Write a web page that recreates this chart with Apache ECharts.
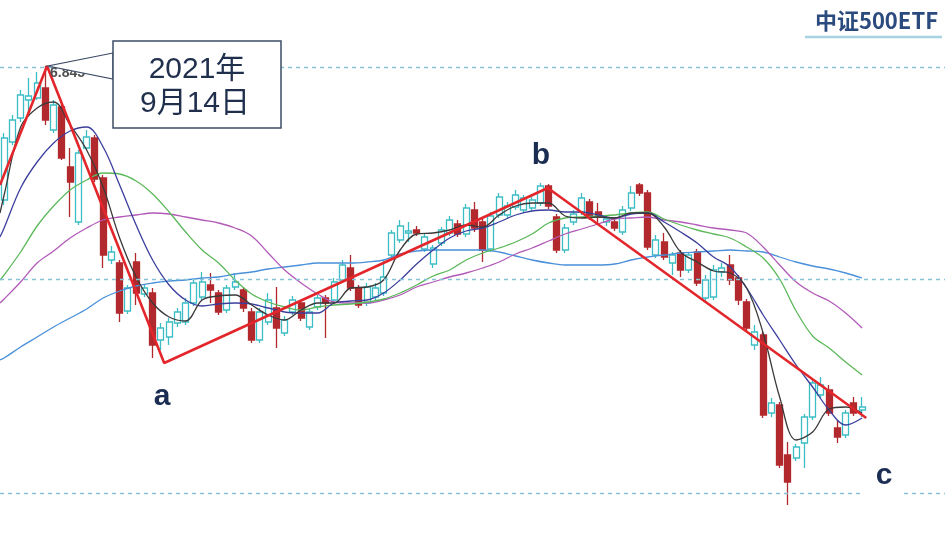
<!DOCTYPE html>
<html><head><meta charset="utf-8">
<script src="https://cdn.jsdelivr.net/npm/echarts@6.0.0/dist/echarts.min.js"></script>
<style>html,body{margin:0;padding:0;background:#fff}#c{width:945px;height:539px}</style>
</head><body><div id="c"></div>
<script>
// trading-day slots (no dates shown on the reference)
const categories = Array.from({length:105}, (_, i) => String(i + 1));
// [open, close, low, high]
const candles = [
[6.175,6.485,6.150,6.510],[6.465,6.575,6.450,6.600],[6.585,6.700,6.565,6.725],[6.675,6.695,6.590,6.785],[6.685,6.760,6.675,6.815],
[6.735,6.575,6.550,6.845],[6.525,6.650,6.510,6.675],[6.640,6.385,6.375,6.655],[6.340,6.265,6.090,6.435],[6.065,6.410,6.050,6.425],
[6.435,6.490,6.425,6.525],[6.485,6.280,6.265,6.500],[6.285,5.900,5.835,6.300],[5.875,5.915,5.855,5.945],[5.860,5.610,5.565,5.875],
[5.620,5.735,5.605,5.750],[5.865,5.710,5.650,5.910],[5.705,5.735,5.690,5.755],[5.710,5.450,5.385,5.735],[5.475,5.535,5.425,5.560],
[5.490,5.565,5.450,5.585],[5.560,5.615,5.540,5.635],[5.565,5.660,5.550,5.685],[5.660,5.760,5.645,5.775],[5.690,5.765,5.675,5.815],
[5.750,5.725,5.660,5.810],[5.710,5.615,5.600,5.725],[5.625,5.735,5.610,5.750],[5.740,5.765,5.725,5.810],[5.725,5.635,5.615,5.740],
[5.615,5.475,5.460,5.635],[5.475,5.615,5.460,5.635],[5.565,5.675,5.550,5.710],[5.635,5.535,5.435,5.740],[5.510,5.575,5.495,5.595],
[5.615,5.675,5.600,5.695],[5.660,5.585,5.570,5.675],[5.540,5.615,5.525,5.630],[5.640,5.685,5.625,5.700],[5.685,5.660,5.485,5.700],
[5.675,5.765,5.660,5.785],[5.775,5.850,5.760,5.875],[5.835,5.735,5.720,5.900],[5.735,5.650,5.635,5.750],[5.660,5.740,5.645,5.760],
[5.690,5.735,5.675,5.760],[5.710,5.790,5.695,5.875],[5.900,6.010,5.885,6.025],[5.975,6.045,5.960,6.075],[6.010,6.020,5.965,6.065],
[6.025,6.010,5.995,6.045],[5.930,5.990,5.915,6.005],[5.855,5.935,5.835,5.950],[5.960,6.025,5.945,6.040],[6.010,6.075,5.995,6.095],
[6.055,6.005,5.990,6.075],[6.005,6.135,5.990,6.155],[6.125,6.035,6.015,6.165],[6.065,5.925,5.865,6.085],[5.930,6.095,5.915,6.115],
[6.100,6.190,6.085,6.210],[6.100,6.145,6.085,6.165],[6.140,6.200,6.125,6.225],[6.125,6.185,6.110,6.200],[6.135,6.175,6.120,6.195],
[6.160,6.245,6.145,6.260],[6.245,6.145,6.130,6.255],[6.090,5.925,5.910,6.105],[5.925,6.035,5.910,6.055],[6.065,6.105,6.050,6.125],
[6.115,6.185,6.100,6.210],[6.165,6.090,6.075,6.180],[6.115,6.090,6.060,6.160],[6.065,6.080,6.045,6.100],[6.065,6.035,6.020,6.080],
[6.015,6.125,6.000,6.145],[6.135,6.210,6.120,6.245],[6.250,6.210,6.195,6.260],[6.210,5.940,5.925,6.225],[5.900,5.975,5.885,6.000],
[5.965,5.890,5.875,6.010],[5.860,5.900,5.800,5.915],[5.910,5.825,5.790,5.925],[5.825,5.900,5.810,5.915],[5.915,5.760,5.745,5.930],
[5.685,5.775,5.665,5.800],[5.690,5.825,5.675,5.850],[5.815,5.835,5.790,5.860],[5.850,5.775,5.750,5.900],[5.785,5.675,5.650,5.800],
[5.665,5.535,5.520,5.680],[5.450,5.515,5.425,5.550],[5.500,5.100,5.085,5.515],[5.110,5.160,5.090,5.185],[5.150,4.850,4.835,5.165],
[4.900,4.765,4.650,4.965],[4.885,4.940,4.870,4.955],[4.960,5.090,4.835,5.105],[5.090,5.260,5.075,5.275],[5.200,5.250,5.185,5.290],
[5.225,5.110,5.095,5.250],[5.035,4.990,4.960,5.075],[5.000,5.110,4.985,5.125],[5.160,5.110,5.095,5.190],[5.125,5.140,5.090,5.190]
];
// moving averages: [day index, price]
const ma5 = [[-0.5,6.110],[0,6.200],[2,6.540],[4,6.635],[6,6.665],[8,6.550],[10,6.425],[12,6.240],[14,5.985],[16,5.790],[18,5.660],[20,5.590],[22,5.570],[24,5.675],[26,5.695],[28,5.700],[30,5.650],[32,5.600],[34,5.575],[36,5.625],[38,5.660],[40,5.660],[42,5.735],[44,5.740],[46,5.775],[48,5.925],[50,6.005],[52,6.010],[54,6.025],[56,6.050],[58,6.040],[60,6.100],[62,6.145],[64,6.160],[66,6.160],[68,6.095],[70,6.085],[72,6.090],[74,6.085],[76,6.110],[78,6.110],[80,6.040],[82,5.915],[84,5.865],[86,5.820],[88,5.810],[90,5.735],[92,5.510],[94,5.190],[96,4.975],[98,5.015],[100,5.130],[102,5.140],[104,5.110]];
const ma10 = [[-0.5,5.990],[0,6.035],[2,6.235],[4,6.365],[6,6.460],[8,6.520],[10,6.540],[12,6.440],[14,6.250],[16,6.050],[18,5.875],[20,5.750],[22,5.675],[24,5.645],[26,5.655],[28,5.660],[30,5.655],[32,5.635],[34,5.615],[36,5.610],[38,5.610],[40,5.660],[42,5.670],[44,5.675],[46,5.710],[48,5.775],[50,5.855],[52,5.925],[54,5.985],[56,6.020],[58,6.035],[60,6.065],[62,6.100],[64,6.120],[66,6.125],[68,6.115],[70,6.115],[72,6.100],[74,6.085],[76,6.105],[78,6.110],[80,6.065],[82,6.015],[84,5.960],[86,5.890],[88,5.840],[90,5.735],[92,5.600],[94,5.475],[96,5.350],[98,5.240],[100,5.125],[102,5.050],[104,5.085]];
const ma20 = [[-0.5,5.775],[0,5.800],[2,5.915],[4,6.045],[6,6.145],[8,6.225],[10,6.275],[12,6.310],[14,6.305],[16,6.270],[18,6.205],[20,6.115],[22,6.015],[24,5.925],[26,5.860],[28,5.775],[30,5.705],[32,5.665],[34,5.640],[36,5.625],[38,5.640],[40,5.650],[42,5.655],[44,5.665],[46,5.680],[48,5.710],[50,5.750],[52,5.795],[54,5.825],[56,5.875],[58,5.910],[60,5.935],[62,5.965],[64,6.005],[66,6.060],[68,6.085],[70,6.090],[72,6.095],[74,6.100],[76,6.110],[78,6.115],[80,6.080],[82,6.050],[84,6.025],[86,6.005],[88,5.985],[90,5.940],[92,5.885],[94,5.780],[96,5.620],[98,5.495],[100,5.435],[102,5.365],[104,5.300]];
const ma30 = [[-0.5,5.660],[0,5.680],[2,5.765],[4,5.860],[6,5.920],[8,5.985],[10,6.035],[12,6.075],[14,6.090],[16,6.100],[18,6.110],[20,6.105],[22,6.090],[24,6.075],[26,6.060],[28,6.035],[30,5.995],[32,5.910],[34,5.825],[36,5.760],[38,5.705],[40,5.665],[42,5.660],[44,5.660],[46,5.675],[48,5.700],[50,5.740],[52,5.765],[54,5.790],[56,5.810],[58,5.835],[60,5.865],[62,5.905],[64,5.935],[66,5.970],[68,6.005],[70,6.030],[72,6.055],[74,6.080],[76,6.085],[78,6.090],[80,6.075],[82,6.065],[84,6.050],[86,6.035],[88,6.025],[90,6.010],[92,5.940],[94,5.850],[96,5.765],[98,5.710],[100,5.670],[102,5.610],[104,5.535]];
const ma60 = [[-0.5,5.375],[0,5.385],[2,5.440],[4,5.490],[6,5.540],[8,5.585],[10,5.630],[12,5.685],[14,5.720],[16,5.745],[18,5.760],[20,5.770],[22,5.775],[24,5.785],[26,5.790],[28,5.805],[30,5.815],[32,5.830],[34,5.840],[36,5.850],[38,5.860],[40,5.860],[42,5.860],[44,5.865],[46,5.875],[48,5.905],[50,5.920],[52,5.925],[54,5.925],[56,5.925],[58,5.925],[60,5.915],[62,5.895],[64,5.875],[66,5.860],[68,5.850],[70,5.850],[72,5.850],[74,5.855],[76,5.875],[78,5.890],[80,5.900],[82,5.910],[84,5.915],[86,5.920],[88,5.925],[90,5.920],[92,5.915],[94,5.890],[96,5.865],[98,5.845],[100,5.830],[102,5.810],[104,5.785]];
// wave trend line: start, 2021-09-14 top, a, b, end (c leg)
const trend = [[-0.5,6.250],[5.2,6.845],[19.4,5.360],[65.9,6.235],[104.5,5.085]];
// dotted reference levels
const levels = [6.845, 5.780, 4.710];

const chart = echarts.init(document.getElementById('c'));
const FONT = '"Liberation Sans","Noto Sans CJK SC",sans-serif';
function maSeries(name, data, color) {
  return {name, type:'line', xAxisIndex:1, yAxisIndex:0, data, smooth:0.35, symbol:'none',
    lineStyle:{width:1.3, color}, z:4, silent:true};
}
const mid = {textAlign:'center', textVerticalAlign:'middle', align:'center', verticalAlign:'middle'};
chart.setOption({
  animation:false,
  backgroundColor:'#ffffff',
  grid:[{left:0, top:0, width:866.25, height:539}, {left:0, right:0, top:0, bottom:0}],
  xAxis:[
    {type:'category', data:categories, gridIndex:0, boundaryGap:true, show:false},
    {type:'value', gridIndex:0, min:-0.5, max:104.5, show:false},
    {type:'value', gridIndex:1, min:0, max:1, show:false}
  ],
  yAxis:[
    {type:'value', gridIndex:0, min:4.48, max:7.175, show:false},
    {type:'value', gridIndex:1, min:4.48, max:7.175, show:false}
  ],
  series:[
    {type:'line', xAxisIndex:2, yAxisIndex:1, data:[[0, levels[0]]], symbol:'none', lineStyle:{opacity:0}, z:1,
     markLine:{silent:true, symbol:['none','none'], label:{show:false},
       lineStyle:{type:[4,4], color:'#86c3d6', width:1.3}, data:levels.map(v => ({yAxis:v}))}},
    {type:'candlestick', xAxisIndex:0, yAxisIndex:0, data:candles, barWidth:6.5, z:3,
     itemStyle:{color:'#ffffff', color0:'#b2292d', borderColor:'#3cbdc5', borderColor0:'#b2292d', borderWidth:1.3}},
    maSeries('MA60', ma60, '#4a90d9'),
    maSeries('MA30', ma30, '#b15ab8'),
    maSeries('MA20', ma20, '#5cb85a'),
    maSeries('MA10', ma10, '#3b3f9c'),
    maSeries('MA5', ma5, '#3a3a3a'),
    {type:'line', xAxisIndex:1, yAxisIndex:0, data:trend, symbol:'none', z:6, silent:true,
     lineStyle:{width:2.6, color:'#e3262b'}}
  ],
  graphic:[
    {type:'rect', z:50, shape:{x:864, y:488, width:38, height:10}, style:{fill:'#fff'}},
    {type:'text', z:98, style:{x:50, y:66, text:'6.845', font:'bold 14px ' + FONT, fill:'#505050'}},
    {type:'polygon', z:99, shape:{points:[[113,53],[48,66],[113,79]]}, style:{fill:'#fff', stroke:'#3d4d66', lineWidth:1.2}},
    {type:'rect', z:100, shape:{x:113, y:41, width:168, height:87}, style:{fill:'#fff', stroke:'#3d4d66', lineWidth:1.5}},
    {type:'text', z:101, style:Object.assign({x:197, y:70, text:'2021年', font:'30px ' + FONT, fill:'#1f2f4c'}, mid)},
    {type:'text', z:101, style:Object.assign({x:195, y:104, text:'9月14日', font:'30px ' + FONT, fill:'#1f2f4c'}, mid)},
    {type:'text', z:101, style:Object.assign({x:162, y:397, text:'a', font:'bold 30px ' + FONT, fill:'#1b2d52'}, mid)},
    {type:'text', z:101, style:Object.assign({x:541, y:156, text:'b', font:'bold 30px ' + FONT, fill:'#1b2d52'}, mid)},
    {type:'text', z:101, style:Object.assign({x:884, y:476, text:'c', font:'bold 30px ' + FONT, fill:'#1b2d52'}, mid)},
    {type:'text', z:101, style:{x:938, y:21, text:'中证500ETF', font:'bold 22px "Noto Sans CJK SC",sans-serif', fill:'#2b4a7d', textAlign:'right', textVerticalAlign:'middle', align:'right', verticalAlign:'middle'}},
    {type:'line', z:101, shape:{x1:805, y1:37, x2:942, y2:37}, style:{stroke:'#a7d3e3', lineWidth:2.5}}
  ]
});
</script>
</body></html>
